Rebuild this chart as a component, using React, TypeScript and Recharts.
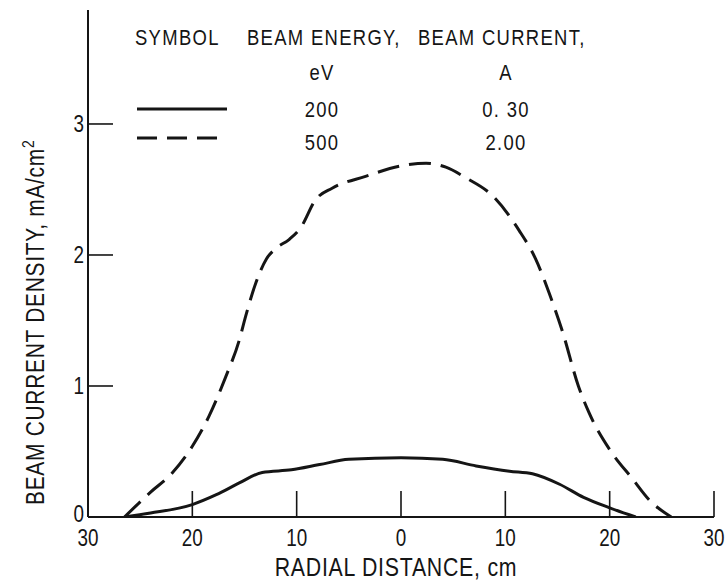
import React from 'react';
import { LineChart, Line, XAxis, YAxis, Customized } from 'recharts';

const FONT = "'Liberation Sans', Arial, sans-serif";
const SX = 0.82; // horizontal condensing of the sans face
const INK = '#151515';

const xTicks = [-30, -20, -10, 0, 10, 20, 30];
const yTicks = [0, 1, 2, 3];

// 500 eV, 2.00 A (dashed)
const series500 = [
  { x: -26.5, y: 0 },
  { x: -24, y: 0.19 },
  { x: -22, y: 0.33 },
  { x: -20, y: 0.54 },
  { x: -18.4, y: 0.77 },
  { x: -16.8, y: 1.07 },
  { x: -15.5, y: 1.35 },
  { x: -14.9, y: 1.53 },
  { x: -13.9, y: 1.79 },
  { x: -12.9, y: 1.97 },
  { x: -12, y: 2.05 },
  { x: -10.7, y: 2.12 },
  { x: -9.6, y: 2.21 },
  { x: -8.2, y: 2.42 },
  { x: -6.6, y: 2.51 },
  { x: -3.4, y: 2.6 },
  { x: 0, y: 2.68 },
  { x: 2.4, y: 2.7 },
  { x: 4.3, y: 2.67 },
  { x: 6.2, y: 2.59 },
  { x: 8.8, y: 2.45 },
  { x: 11.3, y: 2.19 },
  { x: 12.9, y: 1.97 },
  { x: 14.2, y: 1.71 },
  { x: 15.5, y: 1.41 },
  { x: 17, y: 1.0 },
  { x: 18, y: 0.8 },
  { x: 20, y: 0.515 },
  { x: 22.2, y: 0.29 },
  { x: 23.8, y: 0.13 },
  { x: 25.9, y: 0 },
];

// 200 eV, 0.30 A (solid)
const series200 = [
  { x: -26.5, y: 0 },
  { x: -24, y: 0.03 },
  { x: -20, y: 0.095 },
  { x: -17.7, y: 0.17 },
  { x: -15.5, y: 0.26 },
  { x: -13.3, y: 0.34 },
  { x: -10.5, y: 0.36 },
  { x: -7.8, y: 0.4 },
  { x: -5, y: 0.44 },
  { x: 0, y: 0.452 },
  { x: 4, y: 0.44 },
  { x: 7.2, y: 0.39 },
  { x: 10.4, y: 0.35 },
  { x: 12.6, y: 0.33 },
  { x: 15.2, y: 0.25 },
  { x: 17.5, y: 0.15 },
  { x: 20, y: 0.07 },
  { x: 22.5, y: 0 },
];

const legendHeaders = ['SYMBOL', 'BEAM ENERGY,', 'BEAM CURRENT,'];
const legendUnits = ['eV', 'A'];
const legendRows = [
  { energy: '200', current: '0. 30', dash: undefined as string | undefined },
  { energy: '500', current: '2.00', dash: '20 10' },
];

const xTitle = 'RADIAL DISTANCE, cm';
const yTitle = 'BEAM CURRENT DENSITY, mA/cm';

const CText = (props: any) => {
  const { x, y, rotate, children, ...rest } = props;
  const tf = `translate(${x},${y})${rotate ? ` rotate(${rotate})` : ''} scale(${SX},1)`;
  return (
    <text transform={tf} x={0} y={0} fontFamily={FONT} fill={INK} {...rest}>
      {children}
    </text>
  );
};

const XTick = (props: any) => {
  const { x, y, payload } = props;
  const v = payload.value;
  return (
    <g>
      {v !== -30 && <line x1={x} y1={y} x2={x} y2={y - 26} stroke={INK} strokeWidth={1.6} />}
      <CText x={x} y={y + 29} textAnchor="middle" fontSize={23}>
        {Math.abs(v)}
      </CText>
    </g>
  );
};

const YTick = (props: any) => {
  const { x, y, payload } = props;
  const isZero = payload.value === 0;
  return (
    <g>
      {!isZero && <line x1={x} y1={y} x2={x + 25} y2={y} stroke={INK} strokeWidth={1.6} />}
      <CText x={x - 4} y={y + (isZero ? 5 : 8)} textAnchor="end" fontSize={23}>
        {payload.value}
      </CText>
    </g>
  );
};

const Titles = () => (
  <g>
    <CText x={388} y={568} textAnchor="middle" fontSize={26} letterSpacing={0.9}>
      {xTitle}
    </CText>
    <CText x={36} y={497} rotate={-90} fontSize={25.5} letterSpacing={0.9}>
      {yTitle}
      <tspan dy={-10} fontSize={17}>2</tspan>
    </CText>
  </g>
);

const LegendBlock = () => {
  const t = { fontSize: 22.5, letterSpacing: 1.6 } as any;
  const headerX = [127, 239, 410];
  const colX = [314, 498];
  const rowY = [109, 142];
  const lineY = [101, 130];
  return (
    <g>
      {legendHeaders.map((h, i) => (
        <CText key={h} x={headerX[i]} y={37} {...t}>{h}</CText>
      ))}
      {legendUnits.map((u, i) => (
        <CText key={u} x={colX[i]} y={72} textAnchor="middle" {...t}>{u}</CText>
      ))}
      {legendRows.map((r, i) => (
        <g key={r.energy}>
          <line x1={129} x2={219} y1={lineY[i]} y2={lineY[i]} stroke={INK} strokeWidth={3} strokeDasharray={r.dash} />
          <CText x={colX[0]} y={rowY[i]} textAnchor="middle" {...t}>{r.energy}</CText>
          <CText x={colX[1]} y={rowY[i]} textAnchor="middle" {...t}>{r.current}</CText>
        </g>
      ))}
      <Titles />
    </g>
  );
};

export default function App() {
  return (
    <div
      style={{
        position: 'absolute',
        left: 8,
        top: 8,
        width: 717,
        height: 573,
        overflow: 'hidden',
        background: '#fff',
      }}
    >
      <LineChart width={717} height={573} margin={{ top: 2, right: 11, left: 0, bottom: 9 }}>
        <XAxis
          type="number"
          dataKey="x"
          domain={[-30, 30]}
          ticks={xTicks}
          allowDataOverflow
          height={55}
          tickSize={0}
          tickMargin={0}
          tickLine={false}
          axisLine={{ stroke: INK, strokeWidth: 2 }}
          tick={<XTick />}
          interval={0}
        />
        <YAxis
          type="number"
          domain={[0, 3.87]}
          ticks={yTicks}
          allowDataOverflow
          width={80}
          tickSize={0}
          tickMargin={0}
          tickLine={false}
          axisLine={{ stroke: INK, strokeWidth: 2 }}
          tick={<YTick />}
          interval={0}
        />
        <Line
          data={series200}
          dataKey="y"
          type="monotone"
          stroke={INK}
          strokeWidth={3}
          dot={false}
          activeDot={false}
          isAnimationActive={false}
        />
        <Line
          data={series500}
          dataKey="y"
          type="monotone"
          stroke={INK}
          strokeWidth={3}
          strokeDasharray="22 10"
          dot={false}
          activeDot={false}
          isAnimationActive={false}
        />
        <Customized component={LegendBlock} />
      </LineChart>
    </div>
  );
}
